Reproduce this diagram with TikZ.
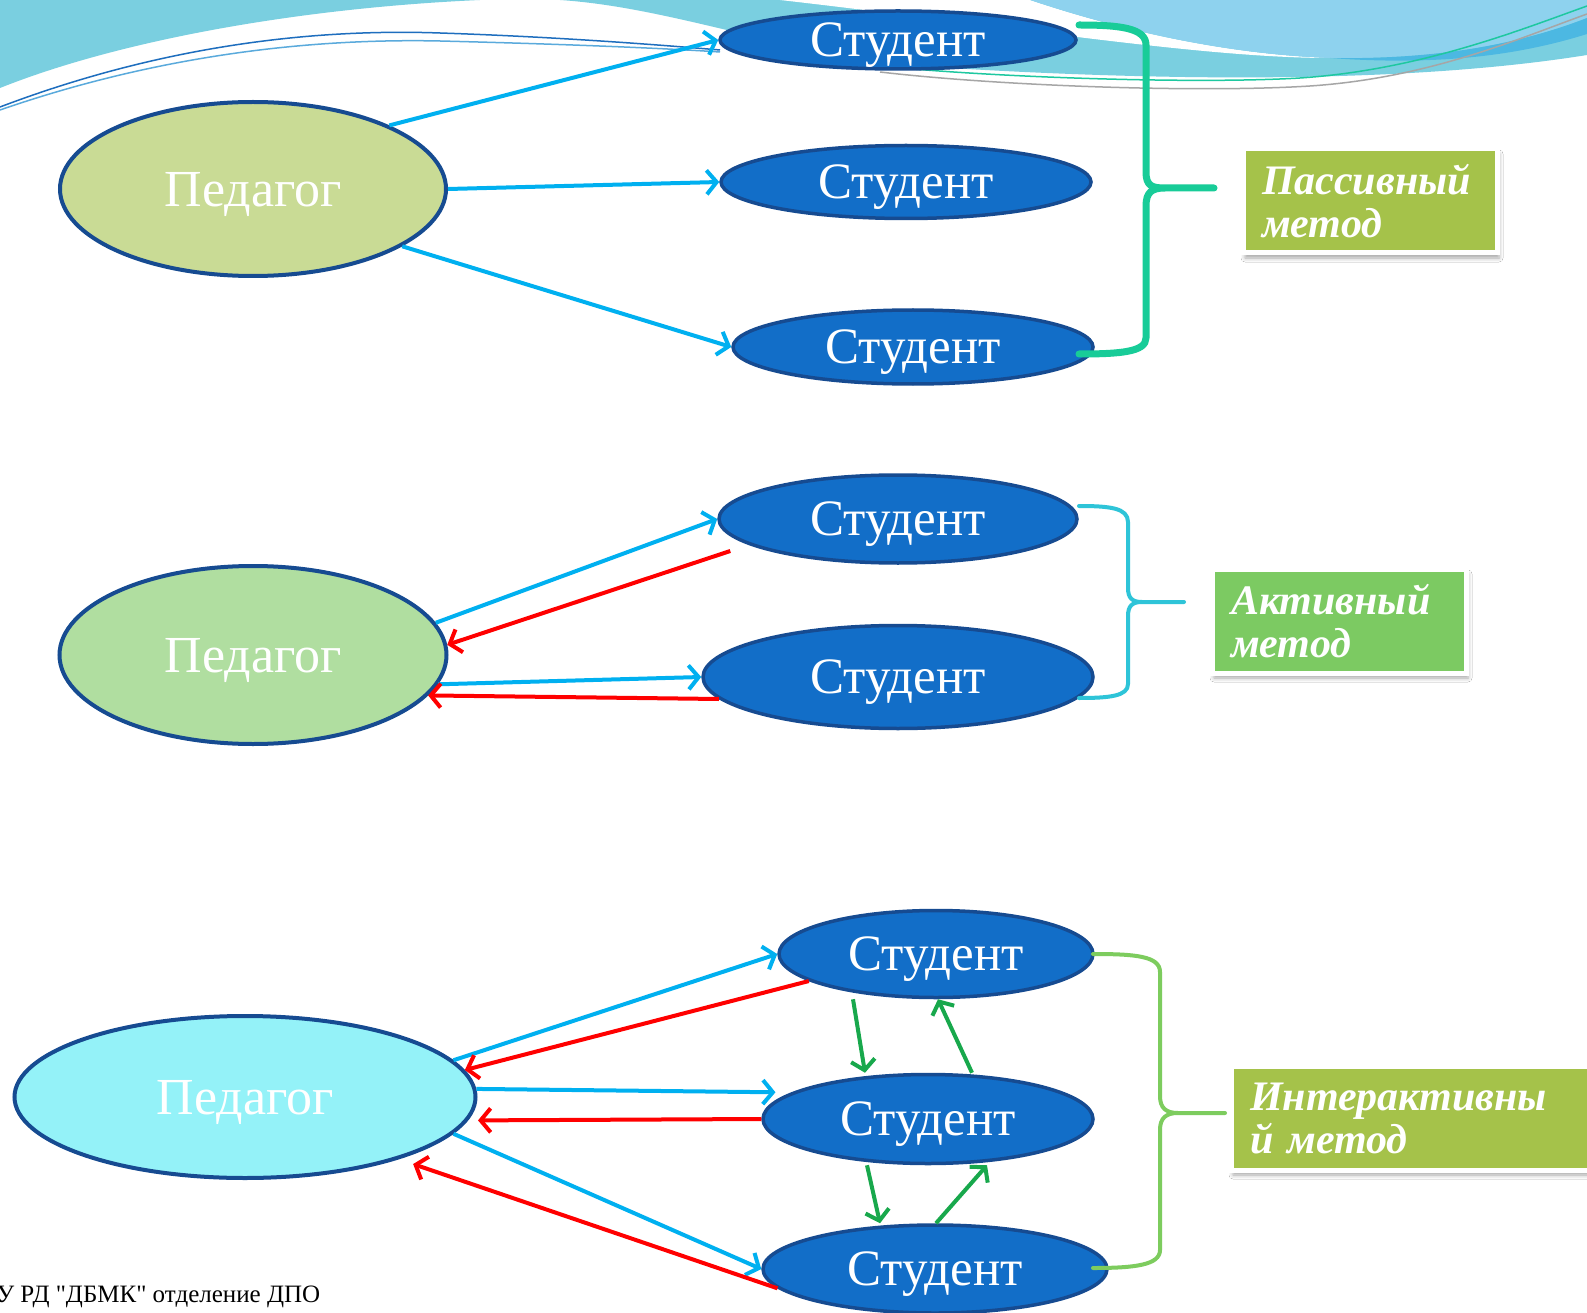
\documentclass[tikz,border=0pt]{standalone}
\usepackage{fontspec}
\setmainfont{Liberation Serif}
\newfontfamily\footfont{Liberation Serif}[Ligatures=TeXOff]
\usetikzlibrary{
		shapes.geometric,
		arrows.meta,
		shadows,
		shadows.blur,
		positioning
	}
\definecolor{studblue}{RGB}{18,110,200}
\definecolor{edgeblue}{RGB}{22,75,145}
\definecolor{pedolive}{RGB}{201,219,149}
\definecolor{pedgreen}{RGB}{176,222,160}
\definecolor{pedcyan}{RGB}{148,242,248}
\definecolor{askcyan}{RGB}{0,176,240}
\definecolor{replyred}{RGB}{255,0,0}
\definecolor{peergreen}{RGB}{24,168,76}
\definecolor{boxolive}{RGB}{165,194,74}
\definecolor{boxgreen}{RGB}{124,202,98}
\definecolor{bracemint}{RGB}{24,204,152}
\definecolor{bracecyan}{RGB}{46,196,216}
\definecolor{bracelime}{RGB}{125,204,94}
\definecolor{waveteal}{RGB}{122,207,224}
\definecolor{waveblue}{RGB}{142,210,238}
\definecolor{wavedeep}{RGB}{76,184,226}
\tikzset{
		>={Straight Barb[length=10pt,width=24pt]}
	}

\begin{document}
\begin{tikzpicture}[x=1pt, y=-1pt,
					student/.style={ellipse, draw=edgeblue, line width=3.5pt, fill=studblue, text=white, inner sep=0pt, text depth=0pt, font=\fontsize{51}{53}\selectfont},
					teacher/.style={ellipse, draw=edgeblue, line width=4pt, text=white, inner sep=0pt, text depth=0pt, font=\fontsize{52}{54}\selectfont},
					method/.style={draw=white, line width=5pt, text=white, inner xsep=19pt, align=left, minimum height=104pt, font=\fontsize{42}{43}\selectfont\bfseries\itshape, blur shadow={shadow xshift=2pt, shadow yshift=-5pt, shadow blur radius=4pt, shadow opacity=35}},
					ask/.style={->, draw=askcyan, line width=4pt},
					reply/.style={->, draw=replyred, line width=4pt},
					peer/.style={->, draw=peergreen, line width=4pt},
					brace/.style={line cap=round, line join=round}]
		\fill[white] (0,0) rectangle (1587,1313);
		\useasboundingbox (0,0) rectangle (1587,1313);

		% waves along the top edge
		\fill[waveteal] (0,0) -- (480,0) .. controls (300,8) and (120,40) .. (0,88) -- cycle;
		\fill[waveteal] (560,0) .. controls (680,8) and (800,60) .. (950,68) .. controls (1150,80) and (1400,85) .. (1587,55) -- (1587,0) -- cycle;
		\fill[white] (780,0) -- (1030,0) .. controls (1150,40) and (1250,55) .. (1330,58) .. controls (1200,58) and (1000,25) .. (780,0) -- cycle;
		\fill[waveblue] (1030,0) .. controls (1150,40) and (1250,55) .. (1330,58) .. controls (1450,60) and (1530,40) .. (1587,18) -- (1587,0) -- cycle;
		\fill[wavedeep] (1330,58) .. controls (1450,60) and (1530,40) .. (1587,18) -- (1587,34) .. controls (1520,55) and (1440,66) .. (1330,58) -- cycle;
		\draw[line width=1.5pt, color={rgb,255:red,30;green,110;blue,190}] (0,107) .. controls (150,50) and (300,28) .. (440,33) .. controls (560,37) and (660,45) .. (720,50);
		\draw[line width=1.5pt, color={rgb,255:red,90;green,170;blue,220}] (0,110) .. controls (150,58) and (300,38) .. (440,41) .. controls (560,44) and (660,48) .. (720,52);
		\draw[line width=1.5pt, color={rgb,255:red,30;green,200;blue,160}] (880,66) .. controls (1000,78) and (1200,84) .. (1300,78) .. controls (1420,70) and (1520,30) .. (1587,6);
		\draw[line width=1.5pt, color=gray!70] (880,72) .. controls (1000,86) and (1200,93) .. (1310,86) .. controls (1430,78) and (1520,38) .. (1587,14);

		% passive
		\node[teacher, fill=pedolive, minimum width=386pt, minimum height=174pt] (ped1) at (253,189) {Педагог};
		\node[student, minimum width=356pt, minimum height=58pt] (st1) at (898,40) {Студент};
		\node[student, minimum width=370pt, minimum height=73pt] (st2) at (906,182) {Студент};
		\node[student, minimum width=360pt, minimum height=74pt] (st3) at (913,347) {Студент};
		\node[method, fill=boxolive, text width=216pt] (box1) at (1370,201) {Пассивный\\метод};
		\draw[ask] (ped1.25) -- (st1.west);
		\draw[ask] (ped1.east) -- (st2.west);
		\draw[ask] (ped1.-21) -- (st3.west);
		\draw[brace, draw=bracemint, line width=7pt] (1079,25) .. controls (1120,25) and (1146,28) .. (1146,45) -- (1146,172) .. controls (1146,186) and (1152,188) .. (1165,188) -- (1214,188)
			(1165,188) .. controls (1152,188) and (1146,192) .. (1146,206) -- (1146,338) .. controls (1146,352) and (1120,354) .. (1079,354);

		% active
		\node[teacher, fill=pedgreen, minimum width=387pt, minimum height=178pt] (ped2) at (253,655) {Педагог};
		\node[student, minimum width=358pt, minimum height=88pt] (st4) at (898,519) {Студент};
		\node[student, minimum width=390pt, minimum height=103pt] (st5) at (898,677) {Студент};
		\node[method, fill=boxgreen, text width=216pt] (box2) at (1339,621) {Активный\\метод};
		\draw[ask] (ped2.10) -- (st4.west);
		\draw[reply] ([xshift=13pt,yshift=-32pt]st4.west) -- (ped2.3);
		\draw[ask] (ped2.-9) -- (st5.west);
		\draw[reply] (st5.187) -- (ped2.-13);
		\draw[brace, draw=bracecyan, line width=4pt] (1079,506) .. controls (1110,506) and (1128,508) .. (1128,522) -- (1128,588) .. controls (1128,598) and (1132,602) .. (1142,602) -- (1184,602)
			(1142,602) .. controls (1132,602) and (1128,606) .. (1128,616) -- (1128,684) .. controls (1128,696) and (1110,698) .. (1079,698);

		% interactive
		\node[teacher, fill=pedcyan, minimum width=461pt, minimum height=162pt] (ped3) at (245,1097) {Педагог};
		\node[student, minimum width=314pt, minimum height=87pt] (st6) at (936,954) {Студент};
		\node[student, minimum width=330pt, minimum height=89pt] (st7) at (928,1119) {Студент};
		\node[student, minimum width=344pt, minimum height=88pt] (st8) at (935,1269) {Студент};
		\node[method, fill=boxolive, text width=322pt] (box3) at (1411,1118) {Интерактивны\\й метод};
		\draw[ask] (ped3.10) -- (st6.west);
		\draw[reply] (st6.192) -- (ped3.7);
		\draw[ask, shorten >=16pt] (ped3.2) -- (st7.169);
		\draw[reply, shorten >=10pt] (st7.west) -- (ped3.-6);
		\draw[ask] (ped3.-10) -- (st8.west);
		\draw[reply, shorten >=15pt] (st8.187) -- (ped3.-22);
		\draw[peer] ([xshift=-83pt]st6.south) -- ([xshift=-63pt]st7.north);
		\draw[peer] ([xshift=44pt]st7.north) -- ([xshift=2pt]st6.south);
		\draw[peer] ([xshift=-61pt]st7.south) -- ([xshift=-55pt]st8.north);
		\draw[peer] ([xshift=1pt]st8.north) -- ([xshift=59pt]st7.south);
		\draw[brace, draw=bracelime, line width=4pt] (1093,954) .. controls (1135,954) and (1160,956) .. (1160,972) -- (1160,1096) .. controls (1160,1108) and (1166,1113) .. (1178,1113) -- (1225,1113)
			(1178,1113) .. controls (1166,1113) and (1160,1118) .. (1160,1130) -- (1160,1250) .. controls (1160,1265) and (1135,1268) .. (1093,1268);

		\node[anchor=base west, font=\footfont\fontsize{25}{27}\selectfont] (footer) at (-7,1302) {У РД "ДБМК" отделение ДПО};
	\end{tikzpicture}
\end{document}
